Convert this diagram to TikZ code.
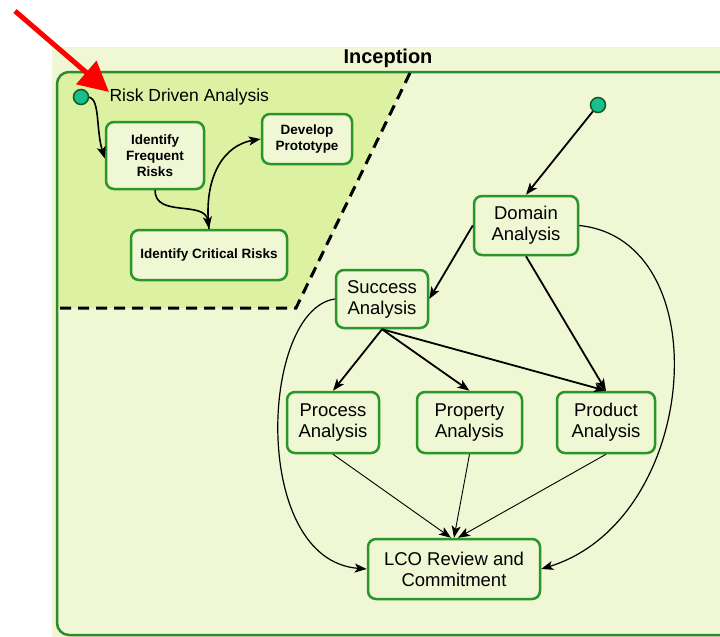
\documentclass[tikz,border=0pt]{standalone}
\usepackage{fontspec}
\setmainfont{Liberation Sans}
\usepackage{tikz}
\usetikzlibrary{positioning, shapes, arrows.meta}
\definecolor{bgGreen}{RGB}{239,247,212}
\definecolor{riskGreen}{RGB}{221,241,163}
\definecolor{frameGreen}{RGB}{44,140,44}
\definecolor{boxGreen}{RGB}{42,150,42}
\definecolor{dotTeal}{RGB}{24,190,140}
\definecolor{dotRim}{RGB}{20,90,40}
\tikzstyle{act}=[%
      rectangle, rounded corners=8pt, draw=boxGreen, line width=2.5pt, fill=bgGreen,
      align=center, inner sep=0pt, font=\fontsize{18.5}{21}\selectfont
]
\tikzstyle{risk}=[%
      act, font=\fontsize{13.5}{16}\selectfont\bfseries
]
\tikzstyle{start}=[%
      circle, draw=dotRim, line width=1.5pt, fill=dotTeal, minimum size=15pt, inner sep=0pt
]
\tikzstyle{frame}=[%
      draw=frameGreen, line width=2.5pt, rounded corners=12pt
]
\tikzstyle{cut}=[%
      black, line width=3pt, dash pattern=on 11pt off 7pt
]

\begin{document}
\begin{tikzpicture}[x=1pt, y=-1pt,
    ->,
    >={Stealth[length=12pt, width=9pt, inset=3pt]}
  ]
    \useasboundingbox (0,0) rectangle (720,637);
    \fill[bgGreen] (52,47) rectangle (720,637);
    % risk driven part of the frame
    \begin{scope}
      \clip[rounded corners=12pt] (57,72) rectangle (760,635);
      \fill[riskGreen] (57,72) -- (410,72) -- (296,308) -- (57,308) -- cycle;
    \end{scope}
    \draw[frame, -] (57,72) rectangle (760,635);
    \coordinate (cutTop) at (410,73);
    \coordinate (cutKnee) at (296,308);
    \coordinate (cutLeft) at (58,308);
    \draw[cut, -] (cutTop) -- (cutKnee) -- (cutLeft);

    \node[font=\fontsize{20}{24}\selectfont\bfseries] (title) at (388,58) {Inception};
    \node[font=\fontsize{17.5}{21}\selectfont, anchor=west] (riskTitle) at (106,97) {Risk Driven Analysis};

    \node[start] (riskStart) at (81,97) {};
    \node[risk, minimum width=98pt, minimum height=67pt] (freq) at (155,155.5) {Identify\\Frequent\\Risks};
    \node[risk, minimum width=90pt, minimum height=50pt] (proto) at (307,139) {Develop\\Prototype};
    \node[risk, minimum width=156pt, minimum height=50pt] (crit) at (209,255) {Identify Critical Risks};

    \node[start] (mainStart) at (598,105) {};
    \node[act, minimum width=104pt, minimum height=59pt] (domain) at (526,225.5) {Domain\\Analysis};
    \node[act, minimum width=92pt, minimum height=58pt] (success) at (382,299) {Success\\Analysis};
    \node[act, minimum width=92pt, minimum height=61pt] (process) at (333,422.5) {Process\\Analysis};
    \node[act, minimum width=105pt, minimum height=61pt] (property) at (469.5,422.5) {Property\\Analysis};
    \node[act, minimum width=98pt, minimum height=61pt] (product) at (606,422.5) {Product\\Analysis};
    \node[act, minimum width=172pt, minimum height=60pt] (lco) at (454,569) {LCO Review and\\Commitment};

    % risk driven analysis
    \draw[line width=1.6pt] (riskStart.east) .. controls (100,100) and (96,130) .. ([yshift=-3pt]freq.west);
    \draw[line width=1.6pt] (freq.south) .. controls (155,218) and (205,200) .. (crit.north);
    \draw[line width=1.6pt] (crit.north) .. controls (203,175) and (225,145) .. (proto.west);

    % inception flow
    \path[line width=1.8pt] (mainStart) edge (domain.north)
          (domain.west) edge (success.east)
          (domain.south) edge (product.north)
          (success.south) edge (process.north)
          (success.south) edge (property.north)
          (success.south) edge (product.north)
    ;
    \draw[line width=1.2pt] (domain.east) .. controls (720,240) and (700,520) .. (lco.east);
    \draw[line width=1.2pt] (success.west) .. controls (260,310) and (250,560) .. (lco.west);
    \path[line width=0.9pt] (process.south) edge ([xshift=-3pt]lco.north)
          (property.south) edge (lco.north)
          (product.south) edge ([xshift=4pt]lco.north)
    ;

    % pointer
    \coordinate (redTail) at (15,11);
    \coordinate (redTip) at (109,92);
    \draw[red, line width=5pt, -{Triangle[length=30pt, width=30pt]}] (redTail) -- (redTip);
  \end{tikzpicture}
\end{document}
